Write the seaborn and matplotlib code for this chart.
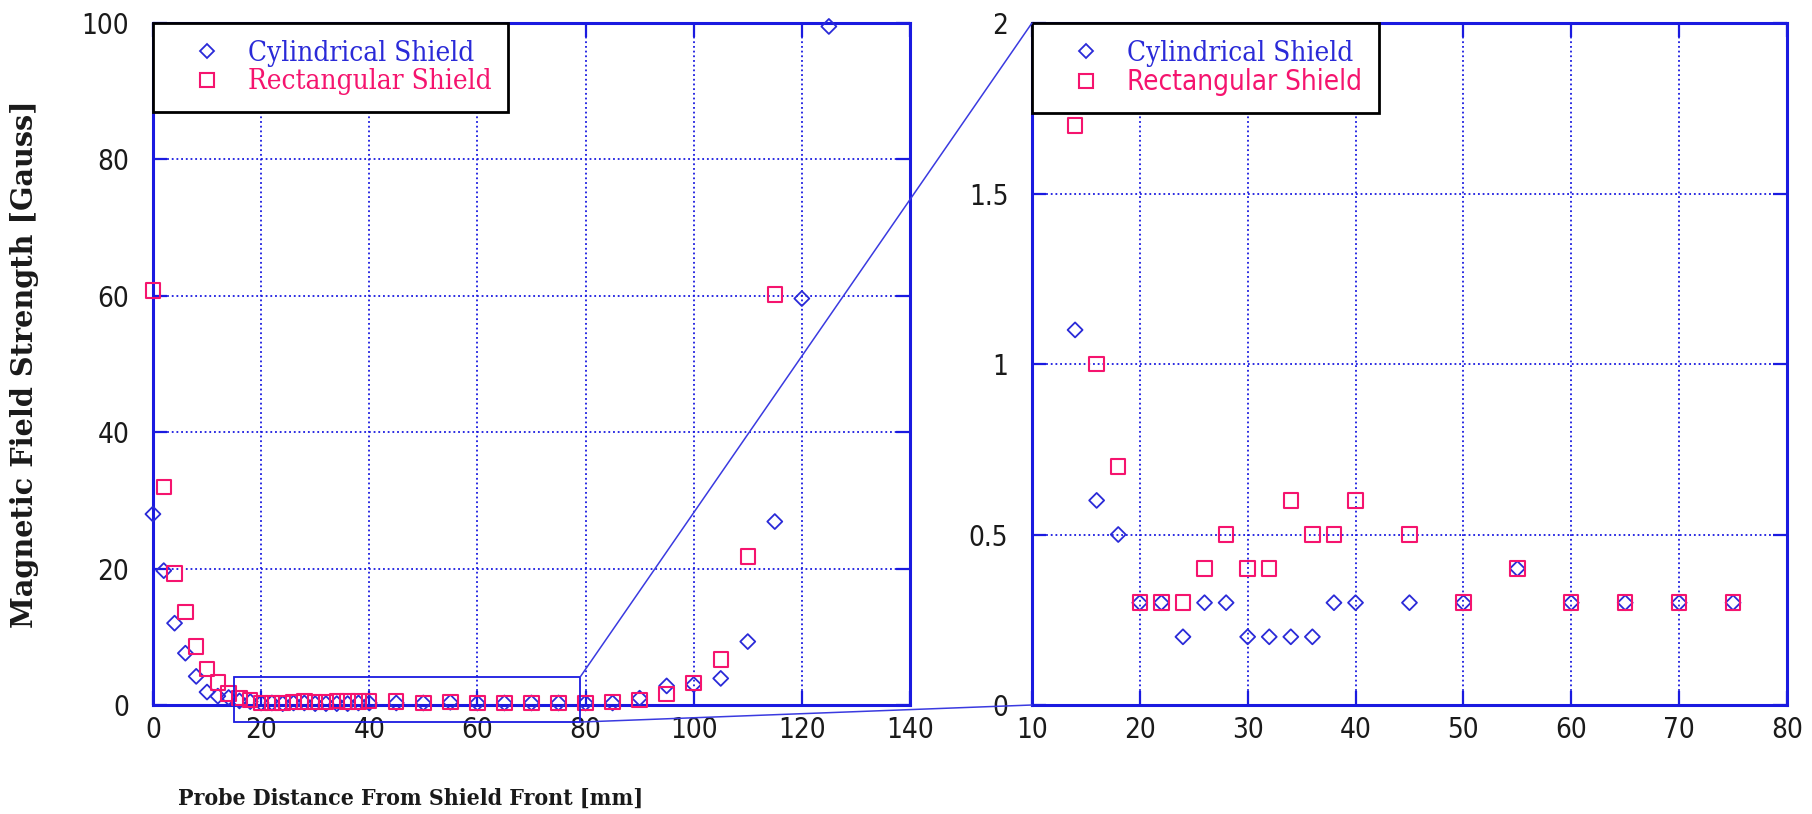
import matplotlib
matplotlib.use("Agg")
import matplotlib.pyplot as plt
import numpy as np
import pandas as pd
import seaborn as sns
from matplotlib import font_manager as fm
from matplotlib.patches import Rectangle, ConnectionPatch
from matplotlib.lines import Line2D

# ---------------- data ----------------
cyl_x = [0, 2, 4, 6, 8, 10, 12, 14, 16, 18, 20, 22, 24, 26, 28, 30, 32, 34, 36, 38, 40,
         45, 50, 55, 60, 65, 70, 75, 80, 85, 90, 95, 100, 105, 110, 115, 120, 125]
cyl_y = [28, 19.7, 12, 7.6, 4.2, 1.9, 1.3, 1.1, 0.6, 0.5, 0.3, 0.3, 0.2, 0.3, 0.3, 0.2, 0.2, 0.2, 0.2, 0.3, 0.3,
         0.3, 0.3, 0.4, 0.3, 0.3, 0.3, 0.3, 0.3, 0.3, 1.0, 2.8, 3.0, 3.9, 9.3, 26.9, 59.6, 99.5]
rect_x = [0, 2, 4, 6, 8, 10, 12, 14, 16, 18, 20, 22, 24, 26, 28, 30, 32, 34, 36, 38, 40,
          45, 50, 55, 60, 65, 70, 75, 80, 85, 90, 95, 100, 105, 110, 115]
rect_y = [60.8, 32, 19.3, 13.6, 8.6, 5.3, 3.3, 1.7, 1.0, 0.7, 0.3, 0.3, 0.3, 0.4, 0.5, 0.4, 0.4, 0.6, 0.5, 0.5, 0.6,
          0.5, 0.3, 0.4, 0.3, 0.3, 0.3, 0.3, 0.3, 0.4, 0.7, 1.6, 3.2, 6.7, 21.8, 60.2]
series_names = ["Cylindrical Shield", "Rectangular Shield"]
x_label = "Probe Distance From Shield Front [mm]"
y_label = "Magnetic Field Strength [Gauss]"
main_xticks = [0, 20, 40, 60, 80, 100, 120, 140]
main_yticks = [0, 20, 40, 60, 80, 100]
zoom_xticks = [10, 20, 30, 40, 50, 60, 70, 80]
zoom_yticks = [0, 0.5, 1, 1.5, 2]
zoom_ytick_labels = ["0", "0.5", "1", "1.5", "2"]
zoom_xrange = (14, 75)          # points shown in the magnified panel
zoom_box_x = (15, 79)
zoom_box_y = (-2.5, 4.1)

BLUE = "#1a1ae0"
MBLUE = "#2a2ad8"
PINK = "#f5146e"
TXT = "#1a1a1a"

df_c = pd.DataFrame({"x": cyl_x, "y": cyl_y})
df_r = pd.DataFrame({"x": rect_x, "y": rect_y})

sns.set_theme(style="white")

# ---------- font selection (condensed faces if installed) ----------
entries = [(f.name, str(f.stretch)) for f in fm.fontManager.ttflist]
names = {n for n, _ in entries}


def has_condensed(name):
    return any(n == name and ("condensed" in s or s.isdigit() and int(s) < 100)
               for n, s in entries)


if "Liberation Sans Narrow" in names:
    TICK_FONT = dict(family=["Liberation Sans Narrow", "DejaVu Sans"], stretch="normal")
elif has_condensed("DejaVu Sans"):
    TICK_FONT = dict(family=["DejaVu Sans"], stretch="condensed")
else:
    TICK_FONT = dict(family=["Liberation Sans", "DejaVu Sans"], stretch="normal")

if has_condensed("DejaVu Serif"):
    SERIF_C = dict(family=["DejaVu Serif"], stretch="condensed")
else:
    SERIF_C = dict(family=["Liberation Serif", "DejaVu Serif"], stretch="normal")
SERIF = dict(family=["DejaVu Serif"], stretch="normal")

plt.rcParams["font.family"] = TICK_FONT["family"]
plt.rcParams["font.stretch"] = TICK_FONT["stretch"]

fig = plt.figure(figsize=(18.12, 8.14), dpi=100)
fig.patch.set_facecolor("white")
ax1 = fig.add_axes([0.0844, 0.1339, 0.4178, 0.8378])
ax2 = fig.add_axes([0.5695, 0.1339, 0.4167, 0.8378])
renderer = fig.canvas.get_renderer()


def fit_size(text, font, target_px, base=20.0, vertical=False, weight="normal"):
    t = fig.text(0, 0, text, fontsize=base, family=font["family"], stretch=font["stretch"],
                 rotation=90 if vertical else 0, weight=weight)
    bb = t.get_window_extent(renderer)
    t.remove()
    cur = bb.height if vertical else bb.width
    return base * target_px / cur


def draw(ax, dc, dr, clip):
    sns.scatterplot(data=dc, x="x", y="y", ax=ax, marker="D", s=58, color=MBLUE,
                    facecolor="none", edgecolor=MBLUE, linewidth=1.3,
                    legend=False, clip_on=clip, zorder=3)
    sns.scatterplot(data=dr, x="x", y="y", ax=ax, marker="s", s=108, color=PINK,
                    facecolor="none", edgecolor=PINK, linewidth=1.5,
                    legend=False, clip_on=clip, zorder=3)


def style(ax):
    ax.set_facecolor("white")
    ax.set_axisbelow(True)
    ax.grid(True, color=BLUE, linestyle=(0, (1, 1.6)), linewidth=1.3)
    for sp in ax.spines.values():
        sp.set_visible(True)
        sp.set_color(BLUE)
        sp.set_linewidth(2.2)
    ax.tick_params(which="both", direction="in", length=10, width=1.6, color=BLUE,
                   top=True, right=True, bottom=True, left=True,
                   labelsize=20, labelcolor=TXT)
    ax.tick_params(axis="x", pad=8)
    ax.tick_params(axis="y", pad=17)
    for lab in ax.get_xticklabels() + ax.get_yticklabels():
        lab.set_family(TICK_FONT["family"])
        lab.set_stretch(TICK_FONT["stretch"])
    ax.set_xlabel("")
    ax.set_ylabel("")


leg_fs = fit_size(series_names[0], SERIF_C, 226)
leg_fs_px = leg_fs * 100 / 72.0
row_h = 1.17 * leg_fs_px
D = 34.0
pad_px = max((100 - D - row_h) / 2.0, 6)
hl = 2 * (54 - pad_px) / leg_fs_px
htp = max((95 - pad_px) / leg_fs_px - hl, 0.0)
lsp = max((D - row_h) / leg_fs_px, 0.05)


def legend(ax, second_font):
    handles = [
        Line2D([], [], marker="D", ls="none", mfc="none", mec=MBLUE, ms=7.6, mew=1.3),
        Line2D([], [], marker="s", ls="none", mfc="none", mec=PINK, ms=10.4, mew=1.5),
    ]
    leg = ax.legend(handles, series_names, loc="upper left", bbox_to_anchor=(0, 1),
                    borderaxespad=0, frameon=True, fancybox=False, framealpha=1,
                    edgecolor="black",
                    prop={"family": SERIF_C["family"], "stretch": SERIF_C["stretch"], "size": leg_fs},
                    borderpad=pad_px / leg_fs_px, handlelength=hl, handletextpad=htp,
                    labelspacing=lsp, labelcolor=[MBLUE, PINK])
    leg.get_frame().set_linewidth(2.0)
    leg.get_texts()[1].set_family(second_font["family"])
    leg.get_texts()[1].set_stretch(second_font["stretch"])
    leg.set_zorder(10)
    return leg


# main panel
draw(ax1, df_c, df_r, False)
ax1.set_xlim(0, 140)
ax1.set_ylim(0, 100)
ax1.set_xticks(main_xticks)
ax1.set_yticks(main_yticks)
style(ax1)
legend(ax1, SERIF_C)

# magnified panel
dcz = df_c[(df_c.x >= zoom_xrange[0]) & (df_c.x <= zoom_xrange[1])]
drz = df_r[(df_r.x >= zoom_xrange[0]) & (df_r.x <= zoom_xrange[1])]
draw(ax2, dcz, drz, True)
ax2.set_xlim(10, 80)
ax2.set_ylim(0, 2)
ax2.set_xticks(zoom_xticks)
ax2.set_yticks(zoom_yticks)
ax2.set_yticklabels(zoom_ytick_labels)
style(ax2)
legend(ax2, TICK_FONT)

# axis labels
xl_fs = fit_size(x_label, SERIF_C, 462, weight="bold")
yl_fs = fit_size(y_label, SERIF, 530, vertical=True, weight="bold")
ax1.set_xlabel(x_label, family=SERIF_C["family"], stretch=SERIF_C["stretch"], weight="bold",
               fontsize=xl_fs, color=TXT, va="center")
ax1.xaxis.set_label_coords(0.34, -0.138)
ax1.set_ylabel(y_label, family=SERIF["family"], stretch=SERIF["stretch"], weight="bold",
               fontsize=yl_fs, color=TXT, va="center")
ax1.yaxis.set_label_coords(-0.169, 0.5)

# zoom box and connectors
ax1.add_patch(Rectangle((zoom_box_x[0], zoom_box_y[0]), zoom_box_x[1] - zoom_box_x[0],
                        zoom_box_y[1] - zoom_box_y[0], fill=False, ec=BLUE, lw=1.3,
                        clip_on=False, zorder=4))
for ya, yb in [(zoom_box_y[1], 2), (zoom_box_y[0], 0)]:
    con = ConnectionPatch(xyA=(zoom_box_x[1], ya), coordsA=ax1.transData,
                          xyB=(10, yb), coordsB=ax2.transData,
                          color="#3a3ae0", lw=1.1, zorder=5)
    fig.add_artist(con)

fig.savefig("out.png", dpi=100, facecolor="white")
